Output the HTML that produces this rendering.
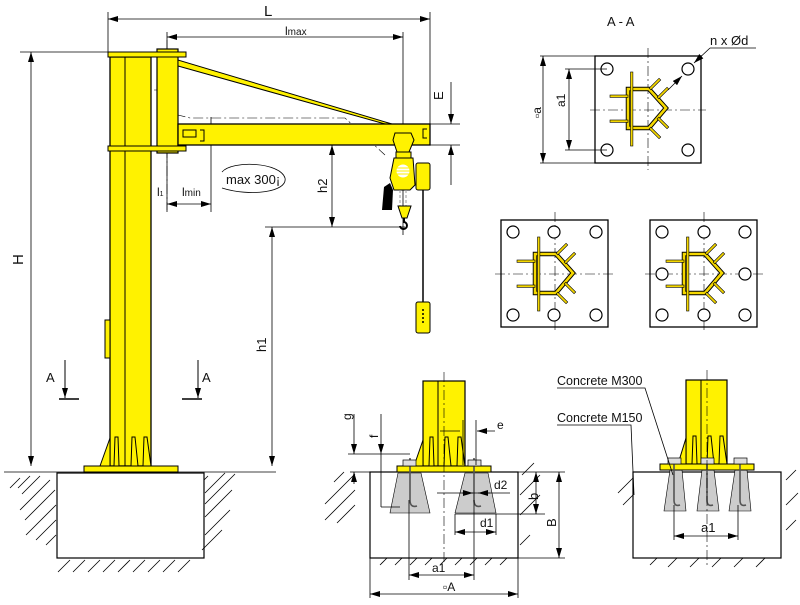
<!DOCTYPE html>
<html><head><meta charset="utf-8"><style>
html,body{margin:0;padding:0;background:#fff}
svg{display:block}
text{font-family:"Liberation Sans",sans-serif;fill:#111}
</style></head><body>
<svg width="800" height="605" viewBox="0 0 800 605" xmlns="http://www.w3.org/2000/svg">
<defs>
<marker id="ar" viewBox="0 0 10 6" refX="10" refY="3" markerWidth="10" markerHeight="6" orient="auto-start-reverse" markerUnits="userSpaceOnUse"><path d="M0,0 L10,3 L0,6z" fill="#000"/></marker>
<g id="fins" fill="#f5d800" stroke="#000" stroke-width="0.6">
<polygon points="0,-20 21,-20 38,-1 21,19 0,19" fill="none" stroke="#000" stroke-width="4.5"/>
<polygon points="0,-20 21,-20 38,-1 21,19 0,19" fill="none" stroke="#f5d800" stroke-width="2.6"/>
<rect x="2.5" y="-37" width="2.4" height="74"/>
<rect x="-18" y="-14" width="18" height="2.4"/>
<rect x="-18" y="11" width="18" height="2.4"/>
<g transform="translate(22,-20) rotate(-45)"><rect x="0" y="-1.2" width="14" height="2.4"/></g>
<g transform="translate(30,-11) rotate(-45)"><rect x="0" y="-1.2" width="14" height="2.4"/></g>
<g transform="translate(30,9) rotate(45)"><rect x="0" y="-1.2" width="14" height="2.4"/></g>
<g transform="translate(22,19) rotate(45)"><rect x="0" y="-1.2" width="14" height="2.4"/></g>
</g>
</defs>

<!-- ===== MAIN CRANE ===== -->
<g stroke="#000" fill="none" stroke-width="0.8">
<!-- L dim -->
<line x1="108" y1="12" x2="108" y2="52"/>
<line x1="430" y1="12" x2="430" y2="124"/>
<line x1="108" y1="19" x2="430" y2="19" marker-start="url(#ar)" marker-end="url(#ar)"/>
<!-- lmax -->
<line x1="167" y1="32" x2="167" y2="212"/>
<line x1="403" y1="32" x2="403" y2="235" stroke-dasharray="none"/>
<line x1="167" y1="37" x2="403" y2="37" marker-start="url(#ar)" marker-end="url(#ar)"/>
<!-- H -->
<line x1="20" y1="52" x2="110" y2="52"/>
<line x1="31" y1="52" x2="31" y2="466" marker-start="url(#ar)" marker-end="url(#ar)"/>
<!-- E -->
<line x1="430" y1="124" x2="460" y2="124"/>
<line x1="430" y1="145" x2="460" y2="145"/>
<line x1="451" y1="82" x2="451" y2="124" marker-end="url(#ar)"/>
<line x1="451" y1="185" x2="451" y2="145" marker-end="url(#ar)"/>
<!-- h2 -->
<line x1="332" y1="145" x2="332" y2="227" marker-start="url(#ar)" marker-end="url(#ar)"/>
<line x1="265" y1="227" x2="405" y2="227"/>
<!-- h1 -->
<line x1="272" y1="227" x2="272" y2="466" marker-start="url(#ar)" marker-end="url(#ar)"/>
<!-- l1 lmin -->
<line x1="211" y1="117" x2="211" y2="212"/>
<line x1="130" y1="204" x2="151" y2="204" marker-end="url(#ar)"/>
<line x1="167" y1="204" x2="211" y2="204" marker-start="url(#ar)" marker-end="url(#ar)"/>
<!-- ground -->
<line x1="4" y1="472" x2="276" y2="472"/>
</g>
<!-- dash-dot centerlines -->
<g stroke="#000" stroke-width="0.6" fill="none" stroke-dasharray="10,3,2,3">
<line x1="167" y1="40" x2="167" y2="210"/>
<path d="M117,460 L117,130 Q118,90 138,90 L160,90 Q172,92 178,115 L190,118 L345,118 L385,155"/>
<line x1="92" y1="466" x2="92" y2="490"/>
<line x1="168" y1="466" x2="168" y2="490"/>
</g>

<!-- column -->
<rect x="110" y="57" width="41" height="409" fill="#fff200" stroke="#000" stroke-width="1.3"/>
<line x1="125" y1="57" x2="125" y2="466" stroke="#000" stroke-width="1"/>
<rect x="105" y="320" width="5" height="38" fill="#fff200" stroke="#000"/>
<!-- bracket -->
<rect x="157" y="49" width="21" height="104" fill="#fff200" stroke="#000" stroke-width="1.2"/>
<rect x="108" y="52" width="78" height="5" fill="#fff200" stroke="#000"/>
<rect x="108" y="146" width="78" height="5" fill="#fff200" stroke="#000"/>
<!-- strut -->
<polygon points="178,60 178,66 385,124 392,124" fill="#fff200" stroke="#000"/>
<!-- jib -->
<rect x="178" y="124" width="252" height="21" fill="#fff200" stroke="#000" stroke-width="1.3"/>
<rect x="183" y="130" width="13" height="7" fill="none" stroke="#000"/>
<path d="M200,130 h4 v11 h-4 M427,129 h-4 v9 h4" stroke="#000" fill="none"/>
<!-- gussets and base -->
<g fill="#fff200" stroke="#000">
<polygon points="100,466 110,438 110,466"/>
<polygon points="114,466 115,437 118,437 119,466"/>
<polygon points="131,466 132,437 135,437 138,466"/>
<polygon points="143,466 144,437 147,437 151,466"/>
<rect x="84" y="466" width="94" height="6"/>
</g>
<rect x="57" y="473" width="147" height="85" fill="#fff" stroke="#000" stroke-width="1.2"/>
<g stroke="#000" stroke-width="0.8">
<path d="M20,478 l-10,10 M30,476 l-12,12 M40,476 l-18,18 M50,480 l-30,30 M55,490 l-30,30 M56,505 l-30,30 M56,520 l-20,20 M56,535 l-10,10 M208,476 l-4,4 M225,473 l-20,20 M235,474 l-30,30 M232,490 l-27,27 M230,510 l-25,25 M222,530 l-20,20 M70,560 l-12,12 M85,560 l-12,12 M100,560 l-12,12 M115,560 l-12,12 M130,560 l-12,12 M145,560 l-12,12 M160,560 l-12,12 M175,560 l-12,12 M190,560 l-12,12"/>
</g>
<!-- A markers -->
<g stroke="#000" stroke-width="1">
<line x1="65" y1="360" x2="65" y2="398" marker-end="url(#ar)"/>
<line x1="59" y1="399" x2="79" y2="399" stroke-width="1.5"/>
<line x1="198" y1="360" x2="198" y2="398" marker-end="url(#ar)"/>
<line x1="182" y1="399" x2="202" y2="399" stroke-width="1.5"/>
</g>
<!-- hoist -->
<line x1="423" y1="190" x2="423" y2="303" stroke="#000" stroke-width="1.5"/>
<rect x="416" y="302" width="14" height="31" rx="2" fill="#fff200" stroke="#000"/>
<g fill="#000"><circle cx="423" cy="310" r="1"/><circle cx="423" cy="314" r="1"/><circle cx="423" cy="318" r="1"/><circle cx="423" cy="322" r="1"/></g>
<rect x="416" y="163" width="14" height="27" rx="2" fill="#fff200" stroke="#000"/>
<polygon points="395,133 411,133 414,140 409,152 397,152 393,140" fill="#fff200" stroke="#000"/>
<rect x="396" y="152" width="15" height="6" fill="#fff200" stroke="#000"/>
<path d="M394,158 L413,158 L415,185 L410,190 L394,190 L390,178 Z" fill="#fff200" stroke="#000"/>
<circle cx="403" cy="171" r="7" fill="#fff" stroke="#fff200"/>
<g stroke="#fff200" stroke-width="1"><line x1="397" y1="168" x2="409" y2="168"/><line x1="396" y1="171" x2="410" y2="171"/><line x1="397" y1="174" x2="409" y2="174"/></g>
<polygon points="384,187 390,183 393,190 392,210 382,210" fill="#000"/>
<line x1="400" y1="190" x2="400" y2="206" stroke="#999" stroke-dasharray="3,2"/>
<line x1="406" y1="190" x2="406" y2="206" stroke="#999" stroke-dasharray="3,2"/>
<polygon points="398,206 411,206 407,218 402,218" fill="#fff200" stroke="#000"/>
<path d="M404,218 v4 a3.5,3.5 0 1 1 -4,4" fill="none" stroke="#000" stroke-width="2"/>
<!-- max 300 -->
<path d="M222,172 C232,160 280,162 285,178 C288,192 250,197 222,188" fill="none" stroke="#000" stroke-width="0.8"/>
<text x="226" y="184" font-size="13">max 300¡</text>
<!-- labels -->
<text x="264" y="16" font-size="15">L</text>
<text x="285" y="35" font-size="12">l<tspan font-size="10">max</tspan></text>
<text x="157" y="196" font-size="12">l<tspan font-size="7">1</tspan></text>
<text x="182" y="196" font-size="12">l<tspan font-size="10">min</tspan></text>
<text transform="translate(23,265) rotate(-90)" font-size="15">H</text>
<text transform="translate(443,100) rotate(-90)" font-size="13">E</text>
<text transform="translate(327,193) rotate(-90)" font-size="13">h2</text>
<text transform="translate(266,352) rotate(-90)" font-size="13">h1</text>
<text x="46" y="382" font-size="13">A</text>
<text x="202" y="382" font-size="13">A</text>

<!-- ===== A-A ===== -->
<text x="607" y="26" font-size="13">A - A</text>
<g stroke="#000" stroke-width="0.6" stroke-dasharray="10,3,2,3">
<line x1="648" y1="48" x2="648" y2="170"/><line x1="590" y1="110" x2="706" y2="110"/>
<line x1="555" y1="212" x2="555" y2="333"/><line x1="495" y1="274" x2="615" y2="274"/>
<line x1="704" y1="212" x2="704" y2="333"/><line x1="645" y1="274" x2="765" y2="274"/>
</g>
<rect x="595" y="56" width="106" height="107" fill="none" stroke="#000" stroke-width="1.3"/>
<g fill="#fff" stroke="#000" stroke-width="1.2">
<circle cx="607" cy="69" r="6"/><circle cx="688" cy="69" r="6"/><circle cx="607" cy="150" r="6"/><circle cx="688" cy="150" r="6"/>
</g>
<use href="#fins" x="628" y="109"/>
<g stroke="#000" stroke-width="0.8" fill="none">
<line x1="540" y1="56" x2="595" y2="56"/><line x1="540" y1="163" x2="595" y2="163"/>
<line x1="543" y1="56" x2="543" y2="163" marker-start="url(#ar)" marker-end="url(#ar)"/>
<line x1="565" y1="69" x2="607" y2="69"/><line x1="565" y1="150" x2="607" y2="150"/>
<line x1="569" y1="69" x2="569" y2="150" marker-start="url(#ar)" marker-end="url(#ar)"/>
<line x1="668" y1="90" x2="682" y2="76" marker-end="url(#ar)"/>
<line x1="710" y1="48" x2="694" y2="63" marker-end="url(#ar)"/>
<line x1="710" y1="48" x2="756" y2="48"/>
</g>
<text x="710" y="45" font-size="13">n x Ød</text>
<text transform="translate(541,118) rotate(-90)" font-size="12">▫a</text>
<text transform="translate(565,107) rotate(-90)" font-size="12">a1</text>

<rect x="501" y="220" width="107" height="107" fill="none" stroke="#000" stroke-width="1.3"/>
<g fill="#fff" stroke="#000" stroke-width="1.2">
<circle cx="513" cy="232" r="6"/><circle cx="554" cy="232" r="6"/><circle cx="596" cy="232" r="6"/>
<circle cx="513" cy="315" r="6"/><circle cx="554" cy="315" r="6"/><circle cx="596" cy="315" r="6"/>
</g>
<use href="#fins" x="535" y="274"/>
<rect x="650" y="220" width="107" height="107" fill="none" stroke="#000" stroke-width="1.3"/>
<g fill="#fff" stroke="#000" stroke-width="1.2">
<circle cx="662" cy="232" r="6"/><circle cx="704" cy="232" r="6"/><circle cx="745" cy="232" r="6"/>
<circle cx="662" cy="274" r="6"/><circle cx="745" cy="274" r="6"/>
<circle cx="662" cy="315" r="6"/><circle cx="704" cy="315" r="6"/><circle cx="745" cy="315" r="6"/>
</g>
<use href="#fins" x="684" y="274"/>

<!-- ===== FOUNDATION DETAIL 1 ===== -->
<rect x="370" y="472" width="148" height="86" fill="#fff" stroke="#000" stroke-width="1.2"/>
<polygon points="390,473 430,473 430,473 430,513 390,513" fill="none"/>
<polygon points="398,473 421,473 430,513 390,513" fill="#ccc" stroke="#000" stroke-width="0.6"/>
<polygon points="465,473 488,473 496,513 455,513" fill="#ccc" stroke="#000" stroke-width="0.6"/>
<rect x="423" y="381" width="42" height="85" fill="#fff200" stroke="#000" stroke-width="1.2"/>
<line x1="438" y1="381" x2="438" y2="466" stroke="#000"/>
<g fill="#fff200" stroke="#000">
<polygon points="414,466 423,440 423,466"/>
<polygon points="429,466 430,437 433,437 434,466"/>
<polygon points="444,466 445,437 448,437 451,466"/>
<polygon points="457,466 458,437 461,437 465,466"/>
<rect x="397" y="466" width="94" height="6"/>
</g>
<g stroke="#555" stroke-width="1.6" fill="none">
<path d="M410,458 V500 q0,8 7,6"/><path d="M474,458 V500 q0,8 7,6"/>
</g>
<g fill="#ddd" stroke="#000" stroke-width="0.7"><rect x="403" y="460" width="13" height="6"/><rect x="468" y="460" width="13" height="6"/></g>
<g stroke="#000" stroke-width="0.6" stroke-dasharray="10,3,2,3"><line x1="444" y1="372" x2="444" y2="565"/></g>
<g stroke="#000" stroke-width="0.8" fill="none">
<path d="M344,472 l-10,10 M355,474 l-30,30 M355,490 l-30,30 M355,505 l-18,18 M522,475 l12,-12 M520,495 l20,-20 M520,515 l20,-20 M520,545 l10,-10 M380,565 l7,-7 M395,565 l7,-7 M410,565 l7,-7 M425,565 l7,-7 M440,565 l7,-7 M455,565 l7,-7 M470,565 l7,-7 M485,565 l7,-7 M500,565 l7,-7"/>
<line x1="518" y1="472" x2="565" y2="472"/><line x1="518" y1="558" x2="565" y2="558"/>
<line x1="559" y1="472" x2="559" y2="558" marker-start="url(#ar)" marker-end="url(#ar)"/>
<line x1="455" y1="514" x2="545" y2="514"/>
<line x1="536" y1="472" x2="536" y2="514" marker-start="url(#ar)" marker-end="url(#ar)"/>
<line x1="455" y1="514" x2="455" y2="535"/><line x1="496" y1="514" x2="496" y2="535"/>
<line x1="455" y1="532" x2="496" y2="532" marker-start="url(#ar)" marker-end="url(#ar)"/>
<line x1="437" y1="493" x2="510" y2="493"/>
<line x1="462" y1="493" x2="473" y2="493" marker-end="url(#ar)"/>
<line x1="490" y1="493" x2="478" y2="493" marker-end="url(#ar)"/>
<line x1="409" y1="500" x2="409" y2="580"/><line x1="474" y1="500" x2="474" y2="580"/>
<line x1="409" y1="575" x2="474" y2="575" marker-start="url(#ar)" marker-end="url(#ar)"/>
<line x1="370" y1="558" x2="370" y2="598"/><line x1="518" y1="558" x2="518" y2="598"/>
<line x1="370" y1="594" x2="518" y2="594" marker-start="url(#ar)" marker-end="url(#ar)"/>
<line x1="348" y1="454" x2="410" y2="454"/>
<line x1="354" y1="414" x2="354" y2="454" marker-end="url(#ar)"/>
<line x1="354" y1="484" x2="354" y2="472" marker-end="url(#ar)"/>
<line x1="350" y1="472" x2="370" y2="472"/>
<line x1="381" y1="414" x2="381" y2="454" marker-end="url(#ar)"/>
<line x1="381" y1="507" x2="381" y2="454"/><line x1="381" y1="507" x2="400" y2="507"/>
<line x1="440" y1="431" x2="460" y2="431"/>
<line x1="463" y1="420" x2="463" y2="465"/><line x1="476" y1="420" x2="476" y2="465"/>
<line x1="495" y1="431" x2="477" y2="431" marker-end="url(#ar)"/>
</g>
<text transform="translate(351,420) rotate(-90)" font-size="12">g</text>
<text transform="translate(378,438) rotate(-90)" font-size="12">f</text>
<text x="497" y="429" font-size="12">e</text>
<text x="494" y="489" font-size="12">d2</text>
<text x="480" y="527" font-size="12">d1</text>
<text transform="translate(538,500) rotate(-90)" font-size="13">b</text>
<text transform="translate(556,527) rotate(-90)" font-size="13">B</text>
<text x="432" y="572" font-size="12">a1</text>
<text x="443" y="591" font-size="12">▫A</text>

<!-- ===== FOUNDATION DETAIL 2 ===== -->
<rect x="633" y="472" width="148" height="86" fill="#fff" stroke="#000" stroke-width="1.2"/>
<polygon points="670,470 682,470 686,511 664,511" fill="#ccc" stroke="#000" stroke-width="0.6"/>
<polygon points="702,470 714,470 719,511 697,511" fill="#ccc" stroke="#000" stroke-width="0.6"/>
<polygon points="735,470 747,470 751,511 729,511" fill="#ccc" stroke="#000" stroke-width="0.6"/>
<rect x="686" y="380" width="41" height="84" fill="#fff200" stroke="#000" stroke-width="1.2"/>
<line x1="701" y1="380" x2="701" y2="464" stroke="#000"/>
<g fill="#fff200" stroke="#000">
<polygon points="678,464 686,438 686,464"/>
<polygon points="692,464 693,436 696,436 697,464"/>
<polygon points="707,464 708,436 711,436 714,464"/>
<polygon points="719,464 720,436 723,436 727,464"/>
<rect x="660" y="464" width="94" height="6"/>
</g>
<g stroke="#555" stroke-width="1.6" fill="none">
<path d="M674,458 V500 q0,7 6,5"/><path d="M707,458 V500 q0,7 6,5"/><path d="M740,458 V500 q0,7 6,5"/>
</g>
<g fill="#ddd" stroke="#000" stroke-width="0.7"><rect x="668" y="458" width="13" height="6"/><rect x="701" y="458" width="13" height="6"/><rect x="734" y="458" width="13" height="6"/></g>
<g stroke="#000" stroke-width="0.6" stroke-dasharray="10,3,2,3"><line x1="707" y1="370" x2="707" y2="565"/></g>
<g stroke="#000" stroke-width="0.8" fill="none">
<path d="M633,478 l-15,15 M633,495 l-10,10 M786,480 l10,-10 M786,505 l12,-12 M786,530 l10,-10 M650,565 l7,-7 M668,567 l9,-9 M690,567 l9,-9 M712,567 l9,-9 M734,567 l9,-9 M756,567 l9,-9"/>
<line x1="674" y1="505" x2="674" y2="540"/><line x1="738" y1="505" x2="738" y2="540"/>
<line x1="674" y1="536" x2="738" y2="536" marker-start="url(#ar)" marker-end="url(#ar)"/>
<polyline points="557,388 645,388 673,475"/>
<polyline points="557,425 631,425 634,495"/>
</g>
<text x="557" y="385" font-size="12.5">Concrete M300</text>
<text x="557" y="422" font-size="12.5">Concrete M150</text>
<text x="701" y="532" font-size="13">a1</text>
</svg>
</body></html>
